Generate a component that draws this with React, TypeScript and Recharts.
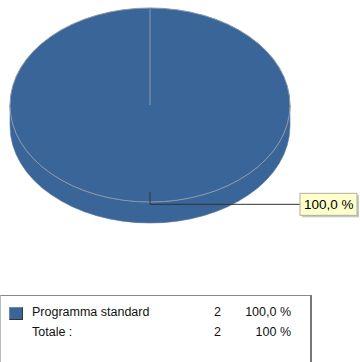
import React from 'react';
import { PieChart, Pie, Legend } from 'recharts';

const categories = ['Programma standard'];
const counts = [2];
const percentLabels = ['100,0 %'];
const totalLabel = 'Totale :';
const totalPercentLabel = '100 %';
const colors = ['#3a6599'];

const data = categories.map((name, i) => ({ name, value: counts[i], pct: percentLabels[i], fill: colors[i] }));

const RATIO = 0.693;
const DEPTH = 21;
const FONT = '"Liberation Sans", Arial, sans-serif';

const renderSlice = (props: any) => {
  const { cx, cy, outerRadius, startAngle, fill } = props;
  const rx = outerRadius;
  const ry = outerRadius * RATIO;
  const d = DEPTH;
  const side = `M${cx - rx},${cy} L${cx - rx},${cy + d} A${rx},${ry} 0 0 0 ${cx + rx},${cy + d} L${cx + rx},${cy} A${rx},${ry} 0 0 1 ${cx - rx},${cy} Z`;
  const rad = (startAngle * Math.PI) / 180;
  const sx = cx + rx * Math.cos(rad);
  const sy = cy - ry * Math.sin(rad);
  return (
    <g>
      <path d={side} fill={fill} stroke="#5f7aa0" strokeWidth={0.6} />
      <ellipse cx={cx} cy={cy} rx={rx} ry={ry} fill={fill} stroke="#8a98ad" strokeWidth={1} />
      <line x1={cx} y1={cy} x2={sx} y2={sy} stroke="#8a98ad" strokeWidth={1} />
    </g>
  );
};

const renderLabel = (props: any) => {
  const { cx, cy, midAngle, outerRadius, payload } = props;
  const rx = outerRadius;
  const ry = outerRadius * RATIO;
  const rad = (midAngle * Math.PI) / 180;
  const px = cx + rx * 0.9 * Math.cos(rad);
  const py = cy - ry * 0.9 * Math.sin(rad);
  const ey = py + 12;
  const bx = 300;
  return (
    <g>
      <polyline points={`${px},${py} ${px},${ey} ${bx},${ey}`} fill="none" stroke="#333" strokeWidth={1} />
      <rect x={bx + 2} y={ey - 9} width={57} height={22} fill="#c8c8c8" />
      <rect x={bx} y={ey - 11} width={57} height={22} fill="#ffffcc" stroke="#b0b0a0" strokeWidth={1} />
      <text x={bx + 4} y={ey + 5} fontFamily={FONT} fontSize={13.5} fill="#000">{payload.pct}</text>
    </g>
  );
};

const LegendTable = (props: any) => {
  const total = counts.reduce((a, b) => a + b, 0);
  return (
    <div style={{ position: 'relative', width: 312, height: 80, borderTop: '1px solid #888', borderRight: '2px solid #777', borderLeft: '1px solid #bbb', boxSizing: 'border-box', fontFamily: FONT, fontSize: 12.5, color: '#111' }}>
      {data.map((d, i) => (
        <div key={d.name} style={{ position: 'absolute', top: 9 + i * 20, left: 0, width: 312, height: 14 }}>
          <div style={{ position: 'absolute', left: 8, top: 2, width: 12, height: 11, background: d.fill, border: '1px solid #333', borderTopColor: '#6b88b3', borderLeftColor: '#6b88b3' }} />
          <span style={{ position: 'absolute', left: 31, top: 0 }}>{d.name}</span>
          <span style={{ position: 'absolute', right: 92, top: 0 }}>{d.value}</span>
          <span style={{ position: 'absolute', right: 22, top: 0 }}>{d.pct}</span>
        </div>
      ))}
      <div style={{ position: 'absolute', top: 9 + data.length * 20, left: 0, width: 312, height: 14 }}>
        <span style={{ position: 'absolute', left: 31, top: 0 }}>{totalLabel}</span>
        <span style={{ position: 'absolute', right: 92, top: 0 }}>{total}</span>
        <span style={{ position: 'absolute', right: 22, top: 0 }}>{totalPercentLabel}</span>
      </div>
    </div>
  );
};

export default function App() {
  return (
    <div style={{ position: 'absolute', left: 0, top: 0, width: 360, height: 362, background: '#fff', overflow: 'hidden' }}>
      <PieChart width={360} height={362} margin={{ top: 0, right: 0, bottom: 0, left: 0 }} accessibilityLayer={false}>
        <Pie
          data={data}
          dataKey="value"
          nameKey="name"
          cx={150}
          cy={105}
          outerRadius={140}
          startAngle={90}
          endAngle={-270}
          isAnimationActive={false}
          shape={renderSlice}
          inactiveShape={renderSlice}
          activeShape={renderSlice}
          label={renderLabel}
          labelLine={false}
          stroke="none"
        />
        <Legend content={<LegendTable />} wrapperStyle={{ position: 'absolute', left: 0, top: 295, width: 312 }} />
      </PieChart>
    </div>
  );
}
